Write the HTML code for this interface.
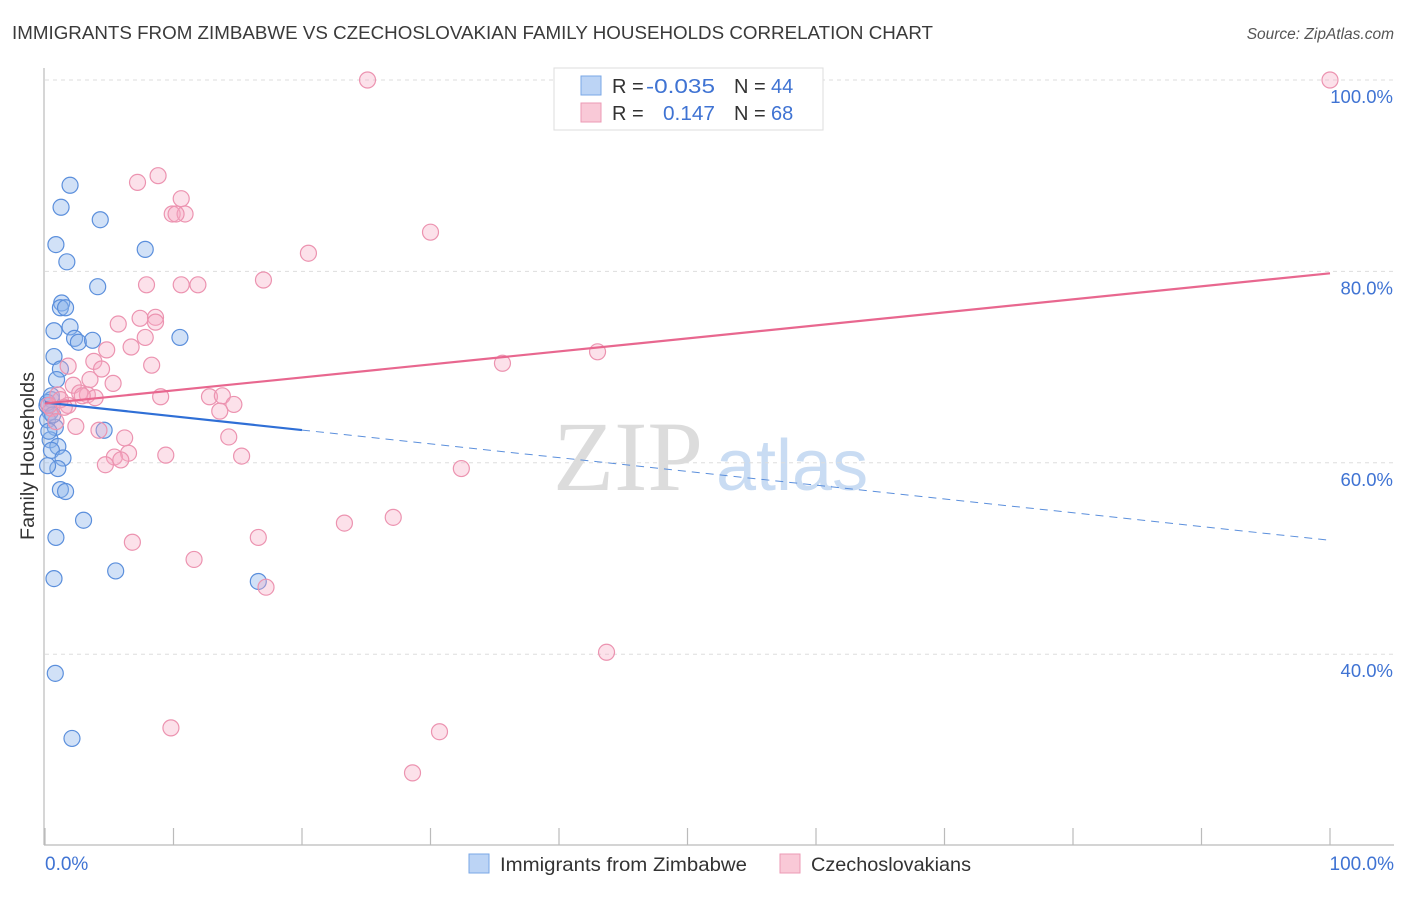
<!DOCTYPE html>
<html><head><meta charset="utf-8"><style>
body{margin:0;background:#fff;font-family:"Liberation Sans",sans-serif;}
svg text{font-family:"Liberation Sans",sans-serif;}
</style></head><body>
<svg id="chart" width="1406" height="892" xmlns="http://www.w3.org/2000/svg">
<text x="12" y="39" font-size="18.5" fill="#3a3a3a" textLength="921" lengthAdjust="spacingAndGlyphs">IMMIGRANTS FROM ZIMBABWE VS CZECHOSLOVAKIAN FAMILY HOUSEHOLDS CORRELATION CHART</text>
<text x="1394" y="39" font-size="15.5" fill="#555" text-anchor="end" font-style="italic">Source: ZipAtlas.com</text>
<g>
<text x="553" y="490" font-size="100" fill="#dcdcdc" style="font-family:'Liberation Serif',serif">ZIP</text>
<text x="716" y="490" font-size="72" fill="#c9dcf3">atlas</text>
</g>
<g id="grid"></g>
<line x1="44" y1="68" x2="44" y2="845" stroke="#bbb" stroke-width="1.2"/>
<line x1="44" y1="845" x2="1394" y2="845" stroke="#bbb" stroke-width="1.2"/>
<g id="ticks"></g>
<text transform="translate(34,456) rotate(-90)" font-size="19" fill="#333" text-anchor="middle" textLength="168" lengthAdjust="spacingAndGlyphs">Family Households</text>
<text x="45" y="870" font-size="19" fill="#3f73d3">0.0%</text>
<text x="1394" y="870" font-size="19" fill="#3f73d3" text-anchor="end">100.0%</text>
<g id="pts"></g>
<g id="lines"></g>
<g>
<rect x="554" y="68" width="269" height="62" fill="#fff" stroke="#ddd"/>
<rect x="581" y="76" width="20" height="19" fill="#bcd4f5" stroke="#7aa7e6"/>
<rect x="581" y="103" width="20" height="19" fill="#f9c9d7" stroke="#ec9ab4"/>
<text x="612" y="93" font-size="20" fill="#333">R =</text>
<text x="646" y="93" font-size="20" fill="#3f73d3" textLength="69" lengthAdjust="spacingAndGlyphs">-0.035</text>
<text x="734" y="93" font-size="20" fill="#333">N =</text>
<text x="771" y="93" font-size="20" fill="#3f73d3">44</text>
<text x="612" y="120" font-size="20" fill="#333">R =</text>
<text x="663" y="120" font-size="20" fill="#3f73d3" textLength="52" lengthAdjust="spacingAndGlyphs">0.147</text>
<text x="734" y="120" font-size="20" fill="#333">N =</text>
<text x="771" y="120" font-size="20" fill="#3f73d3">68</text>
</g>
<g>
<rect x="469" y="854" width="20" height="19" fill="#bcd4f5" stroke="#7aa7e6"/>
<text x="500" y="871" font-size="19.5" fill="#333" textLength="247" lengthAdjust="spacingAndGlyphs">Immigrants from Zimbabwe</text>
<rect x="780" y="854" width="20" height="19" fill="#f9c9d7" stroke="#ec9ab4"/>
<text x="811" y="871" font-size="19.5" fill="#333" textLength="160" lengthAdjust="spacingAndGlyphs">Czechoslovakians</text>
</g>
</svg>
<script>
const yTicks=[100,80,60,40];
const yTickLabels=["100.0%","80.0%","60.0%","40.0%"];
const xTicks=[0,10,20,30,40,50,60,70,80,90,100];
const blueX=[1.95,1.25,4.3,0.85,1.7,7.8,4.1,1.3,1.2,1.6,1.95,0.7,2.3,2.6,3.7,10.5,0.7,1.2,0.9,0.5,0.15,0.4,0.2,0.8,4.6,0.4,1.0,0.5,1.4,1.0,0.2,1.2,1.6,3.0,0.85,5.5,0.7,16.6,0.8,2.1,0.2,0.3,0.5,0.6];
const blueY=[89.0,86.7,85.4,82.8,81.0,82.3,78.4,76.7,76.2,76.2,74.2,73.8,73.0,72.6,72.8,73.1,71.1,69.8,68.7,66.6,66.0,65.3,64.5,63.7,63.4,62.4,61.7,61.3,60.5,59.4,59.7,57.2,57.0,54.0,52.2,48.7,47.9,47.6,38.0,31.2,66.3,63.3,67.0,65.0];
const pinkX=[25.1,100,8.8,7.2,10.6,9.9,10.9,10.2,30.0,20.5,17.0,7.9,10.6,11.9,7.4,8.6,8.6,5.7,7.8,6.7,4.8,43.0,35.6,3.8,8.3,1.8,4.4,3.5,5.3,2.2,2.7,3.3,3.9,9.0,12.8,13.8,14.7,13.6,1.0,1.8,0.5,1.2,2.4,4.2,6.2,14.3,0.85,9.4,15.3,6.5,5.4,5.9,4.7,32.4,27.1,23.3,16.6,6.8,11.6,17.2,43.7,9.8,30.7,28.6,50.2,0.3,2.9,1.5];
const pinkY=[100,100,90.0,89.3,87.6,86.0,86.0,86.0,84.1,81.9,79.1,78.6,78.6,78.6,75.1,75.2,74.7,74.5,73.1,72.1,71.8,71.6,70.4,70.6,70.2,70.1,69.8,68.7,68.3,68.1,67.3,67.1,66.8,66.9,66.9,67.0,66.1,65.4,67.1,66.0,65.7,66.6,63.8,63.4,62.6,62.7,64.3,60.8,60.7,61.0,60.6,60.3,59.8,59.4,54.3,53.7,52.2,51.7,49.9,47.0,40.2,32.3,31.9,27.6,100,66.0,67.0,65.8];
const blueTrend=[66.3,51.9];
const pinkTrend=[66.2,79.8];
const NS="http://www.w3.org/2000/svg";
const sx=v=>45+v*12.85;
const sy=v=>80+(100-v)*9.57;
function mk(tag,attrs,parent){const e=document.createElementNS(NS,tag);for(const k in attrs)e.setAttribute(k,attrs[k]);parent.appendChild(e);return e;}
const grid=document.getElementById('grid');
yTicks.forEach((t,i)=>{
  const l=mk('line',{x1:45,x2:1394,y1:sy(t),y2:sy(t),stroke:'#ddd','stroke-dasharray':'4,4'},grid);
  
  
  const tx=mk('text',{x:1393,y:sy(t)+23,'font-size':18.5,fill:'#3f73d3','text-anchor':'end'},grid);
  tx.textContent=yTickLabels[i];
  
  
});
const tk=document.getElementById('ticks');
xTicks.forEach(t=>{
  const l=mk('line',{x1:sx(t),x2:sx(t),y1:828,y2:845,stroke:'#bbb','stroke-width':1.2},tk);
  
  
});
const pts=document.getElementById('pts');
blueX.forEach((x,i)=>{
  const c=mk('circle',{cx:sx(x),cy:sy(blueY[i]),r:8,fill:'rgba(140,180,235,0.4)',stroke:'#5b8fdc','stroke-width':1.2},pts);
  
  
});
pinkX.forEach((x,i)=>{
  const c=mk('circle',{cx:sx(x),cy:sy(pinkY[i]),r:8,fill:'rgba(245,170,195,0.35)',stroke:'#ec93b0','stroke-width':1.2},pts);
  
  
});
const ln=document.getElementById('lines');
const bAt=x=>blueTrend[0]+(blueTrend[1]-blueTrend[0])*x/100;
const l1=mk('line',{x1:sx(0),y1:sy(bAt(0)),x2:sx(20),y2:sy(bAt(20)),stroke:'#2f6fd6','stroke-width':2.2},ln);


const l2=mk('line',{x1:sx(20),y1:sy(bAt(20)),x2:sx(100),y2:sy(bAt(100)),stroke:'#5b8fdc','stroke-width':1,'stroke-dasharray':'8,6'},ln);


const l3=mk('line',{x1:sx(0),y1:sy(pinkTrend[0]),x2:sx(100),y2:sy(pinkTrend[1]),stroke:'#e8678f','stroke-width':2.2},ln);


</script>
</body></html>
